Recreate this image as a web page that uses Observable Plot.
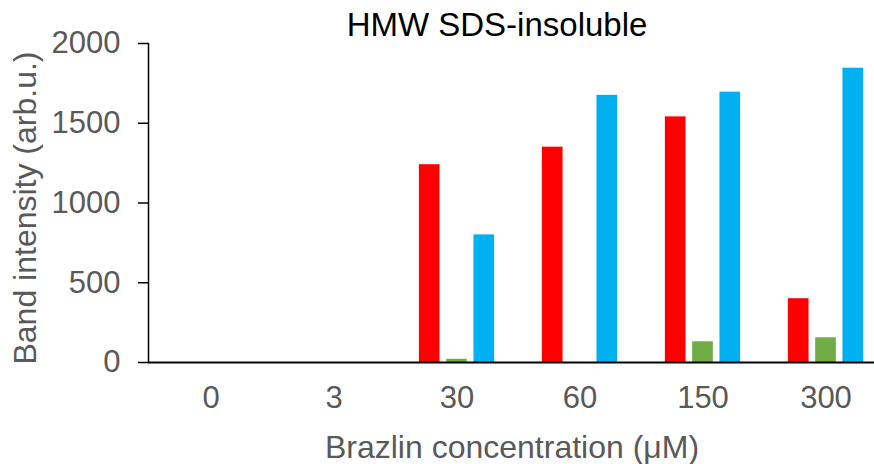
<!DOCTYPE html>
<html>
<head>
<meta charset="utf-8">
<script src="https://cdn.jsdelivr.net/npm/d3@7"></script>
<script src="https://cdn.jsdelivr.net/npm/@observablehq/plot@0.6"></script>
<style>
  body { margin: 0; background: #fff; }
  #wrap { position: relative; width: 874px; height: 464px; overflow: hidden; font-family: "Liberation Sans", Arial, sans-serif; }
  #wrap svg { position: absolute; left: 0; top: 0; }
  .lbl { position: absolute; white-space: nowrap; text-align: center; line-height: 28px; font-size: 32px; }
  #title { top: 11px; left: 0; width: 994px; color: #000; font-size: 33px; }
  #xlabel { top: 433px; left: 112px; width: 800px; color: #595959; }
  #ylabel { width: 400px; height: 28px; left: -175px; top: 193.5px; color: #595959; transform: rotate(-90deg); }
</style>
</head>
<body>
<div id="wrap"></div>
<script>
const title = "HMW SDS-insoluble";
const categories = ["0", "3", "30", "60", "150", "300"];
const seriesNames = ["Series 1", "Series 2", "Series 3"];
const seriesRed   = [0, 0, 1240, 1350, 1540, 400];
const seriesGreen = [0, 0, 20, 0, 130, 155];
const seriesBlue  = [0, 0, 800, 1675, 1695, 1845];
const yTicks = [0, 500, 1000, 1500, 2000];
const xLabel = "Brazlin concentration (μM)";
const yLabel = "Band intensity (arb.u.)";

const colors = ["#FF0000", "#70AD47", "#00B0F0"];
const allSeries = [seriesRed, seriesGreen, seriesBlue];
const rows = allSeries.map((vals, s) => categories.map((c, i) => ({category: c, series: seriesNames[s], value: vals[i]})));

const barWidth = 21, step = 27.3, band = 740 / 6;
const inset = (band - barWidth) / 2;

const chart = Plot.plot({
  width: 874,
  height: 464,
  marginLeft: 148,
  marginRight: -14,
  marginTop: 43,
  marginBottom: 102,
  style: {fontFamily: "'Liberation Sans', Arial, sans-serif", fontSize: "31px", color: "#595959", background: "transparent", overflow: "visible"},
  x: {domain: categories, padding: 0, label: null},
  y: {domain: [0, 2000], label: null},
  marks: [
    ...rows.map((data, s) => Plot.barY(data, {
      x: "category", y: "value", fill: colors[s],
      insetLeft: inset, insetRight: inset, dx: (s - 1) * step
    })),
    Plot.axisX({tickSize: 0, tickPadding: 23, fontSize: 31, label: null}),
    Plot.axisY({ticks: yTicks, tickSize: 10, tickPadding: 18, tickFormat: d3.format("d"), fontSize: 31, label: null, stroke: "#000", strokeWidth: 1.5, fill: "#595959"}),
    Plot.frame({anchor: "left", stroke: "#000", strokeWidth: 1.5}),
    Plot.ruleY([0], {stroke: "#000", strokeWidth: 2})
  ]
});
const wrap = document.getElementById("wrap");
wrap.appendChild(chart);
for (const [id, text] of [["title", title], ["xlabel", xLabel], ["ylabel", yLabel]]) {
  const d = document.createElement("div");
  d.className = "lbl";
  d.id = id;
  d.textContent = text;
  wrap.appendChild(d);
}
</script>
</body>
</html>
